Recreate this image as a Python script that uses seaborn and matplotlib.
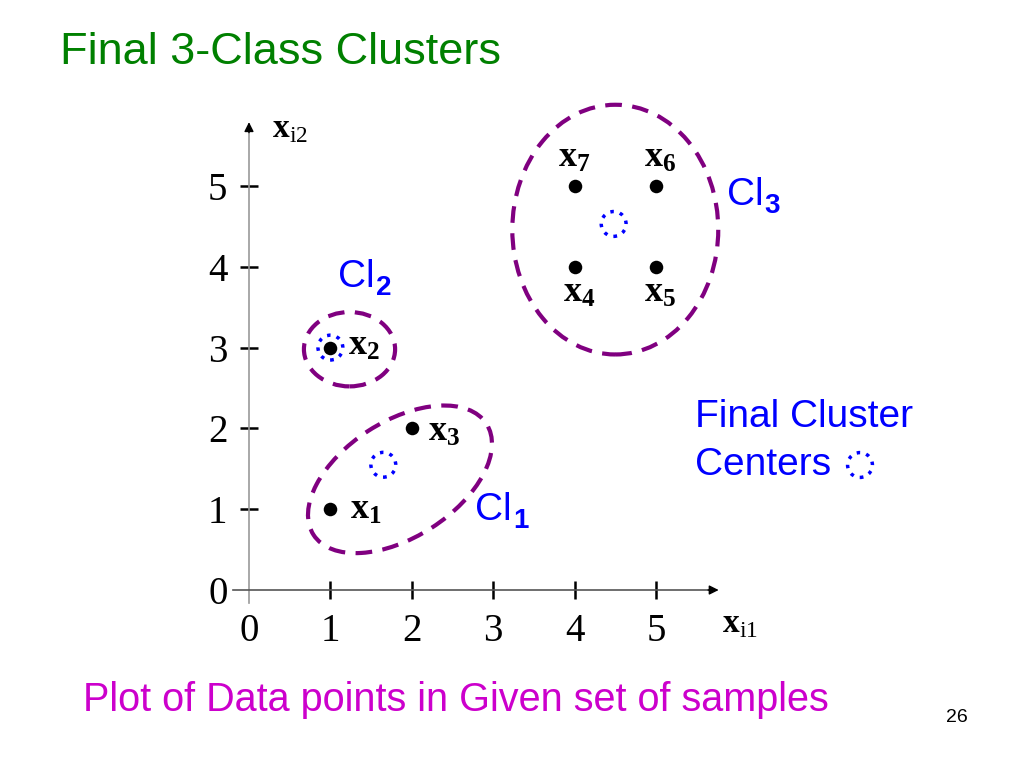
import pandas as pd
import matplotlib.pyplot as plt
import seaborn as sns
from matplotlib.patches import Ellipse

# Estilo
sns.set_theme(style="white")
plt.rcParams['font.family'] = ['Liberation Sans', 'DejaVu Sans']
plt.rcParams['mathtext.fontset'] = 'custom'
plt.rcParams['mathtext.rm'] = 'Liberation Serif'
plt.rcParams['mathtext.bf'] = 'Liberation Serif:bold'

# Dados
point_names = ['1', '2', '3', '4', '5', '6', '7']
point_x = [1, 1, 2, 4, 5, 5, 4]
point_y = [1, 3, 2, 4, 4, 5, 5]

center_x = [1.65, 1.0, 4.48]
center_y = [1.55, 3.0, 4.53]

cluster_names = ['1', '2', '3']
ell_cx = [1.855, 1.235, 4.50]
ell_cy = [1.37, 2.98, 4.46]
ell_w = [2.53, 1.12, 2.53]
ell_h = [1.43, 0.92, 3.09]
ell_angle = [33, 0, 0]

ticks = [0, 1, 2, 3, 4, 5]

df_points = pd.DataFrame({'x': point_x, 'y': point_y, 'nome': point_names})
df_centers = pd.DataFrame({'x': center_x, 'y': center_y, 'cluster': cluster_names})

PURPLE = '#800080'
BLUE = '#0000ff'
DOTS = (0, (1, 1.8))

fig = plt.figure(figsize=(10.24, 7.68), dpi=100)
ax = fig.add_axes([0.1953, 0.2057, 0.5469, 0.6641])
ax.set_xlim(-0.602, 6.278)
ax.set_ylim(-0.2475, 6.064)
ax.patch.set_alpha(0)

# Elipses dos clusters
for cx, cy, w, h, a in zip(ell_cx, ell_cy, ell_w, ell_h, ell_angle):
    ax.add_patch(Ellipse((cx, cy), w, h, angle=a, fill=False,
                         edgecolor=PURPLE, lw=3,
                         linestyle=(0, (4, 2.5)), clip_on=False))

# Pontos e centros
sns.scatterplot(data=df_points, x='x', y='y', color='black', s=95,
                linewidth=0, ax=ax, zorder=3, clip_on=False)
sns.scatterplot(data=df_centers, x='x', y='y', s=320, facecolors='none',
                edgecolor=BLUE, linewidth=2.5, linestyle=DOTS, ax=ax,
                zorder=4, clip_on=False)

# Rótulos dos pontos (offsets em pontos)
offsets = {'1': (14, -7, 'left'), '2': (13, -5, 'left'), '3': (12, -9, 'left'),
           '4': (3, -25, 'center'), '5': (3, -25, 'center'),
           '6': (3, 14, 'center'), '7': (0, 14, 'center')}
for _, row in df_points.iterrows():
    dx, dy, ha = offsets[row['nome']]
    ax.annotate(r'$\mathbf{x_{%s}}$' % row['nome'], xy=(row['x'], row['y']),
                xytext=(dx, dy), textcoords='offset points', ha=ha,
                va='baseline', fontsize=26, color='black')

# Eixos
for s in ['top', 'right']:
    ax.spines[s].set_visible(False)
ax.spines['left'].set_position(('data', 0))
ax.spines['bottom'].set_position(('data', 0))
ax.spines['left'].set_bounds(-0.16, 5.7)
ax.spines['bottom'].set_bounds(-0.2, 5.7)
ax.spines['left'].set_color('#999999')
ax.spines['bottom'].set_color('#555555')
ax.spines['left'].set_linewidth(1.2)
ax.spines['bottom'].set_linewidth(1.2)

ax.annotate('', xy=(0, 5.79), xytext=(0, 5.66),
            arrowprops=dict(arrowstyle='-|>', color='black', lw=1.0,
                            mutation_scale=14, shrinkA=0, shrinkB=0))
ax.annotate('', xy=(5.77, 0), xytext=(5.64, 0),
            arrowprops=dict(arrowstyle='-|>', color='black', lw=1.0,
                            mutation_scale=14, shrinkA=0, shrinkB=0))

ax.set_xticks(ticks)
ax.set_yticks(ticks)
ax.tick_params(axis='x', bottom=True, direction='inout', length=13,
               width=1.8, color='black', labelsize=28, pad=10,
               labelcolor='black')
ax.tick_params(axis='y', left=True, direction='inout', length=13,
               width=1.8, color='black', labelsize=28, pad=9,
               labelcolor='black')
for lab in ax.get_xticklabels() + ax.get_yticklabels():
    lab.set_family('Liberation Serif')
ax.xaxis.get_major_ticks()[0].tick1line.set_visible(False)
ax.yaxis.get_major_ticks()[0].tick1line.set_visible(False)
ax.set_xlabel('')
ax.set_ylabel('')

ax.text(0.28, 5.6, r'$\mathbf{x}_{\mathrm{i2}}$', fontsize=24,
        va='baseline', ha='left', color='black')
ax.text(5.81, -0.52, r'$\mathbf{x}_{\mathrm{i1}}$', fontsize=24,
        va='baseline', ha='left', color='black')


def sub_text(x, y, base, sub):
    t = ax.text(x, y, base, fontsize=28, color=BLUE, va='center', ha='left')
    ax.annotate(sub, xy=(1, 0.2), xycoords=t, xytext=(1, 0),
                textcoords='offset points', fontsize=20, fontweight='bold',
                color=BLUE, va='center', ha='left')


sub_text(2.78, 0.99, 'Cl', cluster_names[0])
sub_text(1.09, 3.87, 'Cl', cluster_names[1])
sub_text(5.87, 4.89, 'Cl', cluster_names[2])

# Textos do slide
fig.text(60 / 1024, 1 - 53 / 768, 'Final 3-Class Clusters', fontsize=32.5,
         color='#008000', va='center', ha='left')
fig.text(695 / 1024, 1 - 417 / 768, 'Final Cluster', fontsize=28,
         color=BLUE, va='center', ha='left')
fig.text(695 / 1024, 1 - 465 / 768, 'Centers', fontsize=28,
         color=BLUE, va='center', ha='left')
ax.scatter([860 / 1024], [1 - 465 / 768], s=320, facecolors='none',
           edgecolors=BLUE, linewidths=2.5, linestyle=DOTS,
           transform=fig.transFigure, clip_on=False)
fig.text(83 / 1024, 1 - 700 / 768,
         'Plot of Data points in Given set of samples', fontsize=28.5,
         color='#cc00cc', va='center', ha='left')
fig.text(957 / 1024, 1 - 717 / 768, '26', fontsize=14, color='black',
         ha='center', va='center')

fig.savefig('out.png', dpi=100)
